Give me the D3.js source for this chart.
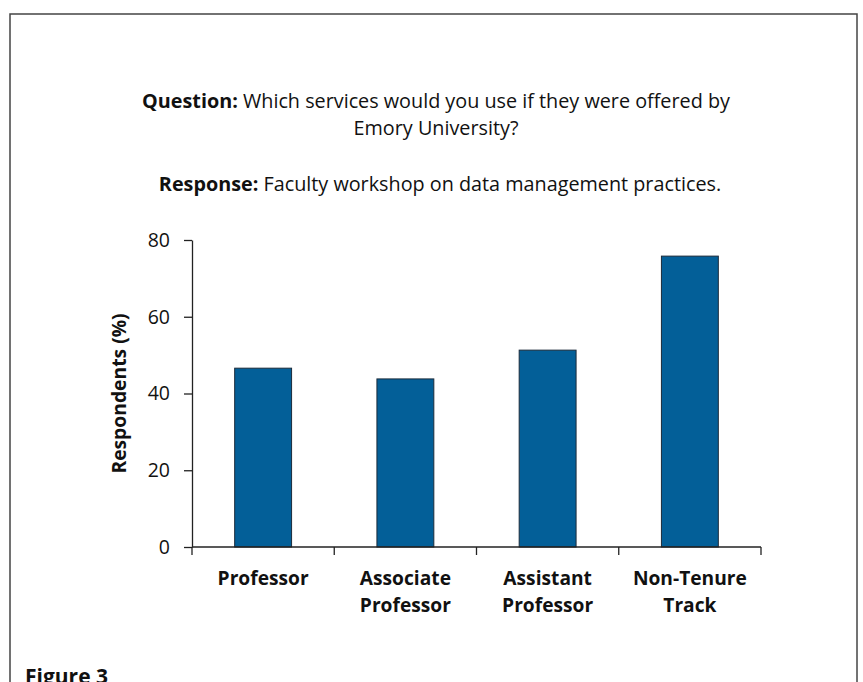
<!DOCTYPE html>
<html>
<head>
  <meta charset="utf-8">
  <script src="https://d3js.org/d3.v7.min.js"></script>
  <style>
    body { margin: 0; background: #fff; }
    svg text { font-family: "Open Sans", sans-serif; fill: #111; }
  </style>
</head>
<body>
<script>
  // chart data
  var categories = [["Professor"], ["Associate", "Professor"], ["Assistant", "Professor"], ["Non-Tenure", "Track"]];
  var values = [46.6, 43.8, 51.3, 75.8];
  var yTicks = [0, 20, 40, 60, 80];

  var W = 863, H = 682;
  var svg = d3.select("body").append("svg")
      .attr("width", W).attr("height", H);

  // outer frame
  svg.append("rect")
      .attr("x", 10).attr("y", 14)
      .attr("width", 847).attr("height", 700)
      .attr("fill", "none").attr("stroke", "#444").attr("stroke-width", 1.5);

  // heading text
  var head = svg.append("g").attr("text-anchor", "middle").style("font-size", "19.8px");
  var t1 = head.append("text").attr("x", 436).attr("y", 108);
  t1.append("tspan").style("font-weight", "bold").text("Question:");
  t1.append("tspan").text(" Which services would you use if they were offered by");
  head.append("text").attr("x", 436).attr("y", 135).text("Emory University?");
  var t2 = head.append("text").attr("x", 440).attr("y", 191);
  t2.append("tspan").style("font-weight", "bold").text("Response:");
  t2.append("tspan").text(" Faculty workshop on data management practices.");

  var x0 = 192, x1 = 761, yTop = 240, yBot = 547;

  var x = d3.scaleBand()
      .domain(d3.range(categories.length))
      .range([x0, x1])
      .paddingInner(0.6).paddingOuter(0.3);
  var y = d3.scaleLinear().domain([0, 80]).range([yBot, yTop]);

  // bars
  svg.selectAll("rect.bar")
      .data(values)
      .enter().append("rect")
      .attr("class", "bar")
      .attr("x", function (d, i) { return x(i); })
      .attr("width", x.bandwidth())
      .attr("y", function (d) { return y(d); })
      .attr("height", function (d) { return yBot - y(d); })
      .attr("fill", "#035f98")
      .attr("stroke", "#1c2b3a").attr("stroke-width", 1);

  // y axis
  var yAxis = svg.append("g")
      .attr("transform", "translate(" + x0 + ",0)")
      .call(d3.axisLeft(y).tickValues(yTicks).tickSize(8).tickPadding(14).tickSizeOuter(0));
  yAxis.select(".domain").attr("stroke", "#222").attr("stroke-width", 1.3);
  yAxis.selectAll(".tick line").attr("stroke", "#222").attr("stroke-width", 1.3);
  yAxis.selectAll("text").style("font-size", "19.5px").style("font-family", "Open Sans, sans-serif").attr("fill", "#111");

  // x axis line and category dividers
  var step = (x1 - x0) / categories.length;
  svg.append("line")
      .attr("x1", x0).attr("x2", x1).attr("y1", yBot).attr("y2", yBot)
      .attr("stroke", "#222").attr("stroke-width", 1.3);
  svg.selectAll("line.div")
      .data(d3.range(categories.length + 1))
      .enter().append("line")
      .attr("x1", function (d) { return x0 + d * step; })
      .attr("x2", function (d) { return x0 + d * step; })
      .attr("y1", yBot).attr("y2", yBot + 8)
      .attr("stroke", "#222").attr("stroke-width", 1.3);

  // category labels
  var lab = svg.selectAll("text.cat")
      .data(categories)
      .enter().append("text")
      .attr("class", "cat")
      .attr("text-anchor", "middle")
      .style("font-size", "19.2px").style("font-weight", "bold")
      .attr("transform", function (d, i) { return "translate(" + (x(i) + x.bandwidth() / 2) + ",585)"; });
  lab.selectAll("tspan")
      .data(function (d) { return d; })
      .enter().append("tspan")
      .attr("x", 0)
      .attr("dy", function (d, i) { return i === 0 ? 0 : 27; })
      .text(function (d) { return d; });

  // y axis title
  svg.append("text")
      .attr("transform", "translate(126," + ((yTop + yBot) / 2) + ") rotate(-90)")
      .attr("text-anchor", "middle")
      .style("font-size", "19.3px").style("font-weight", "bold")
      .text("Respondents (%)");

  // caption, cut off at the bottom edge as in the source
  svg.append("text")
      .attr("x", 25).attr("y", 684)
      .style("font-size", "21px").style("font-weight", "bold")
      .text("Figure 3");
</script>
</body>
</html>
